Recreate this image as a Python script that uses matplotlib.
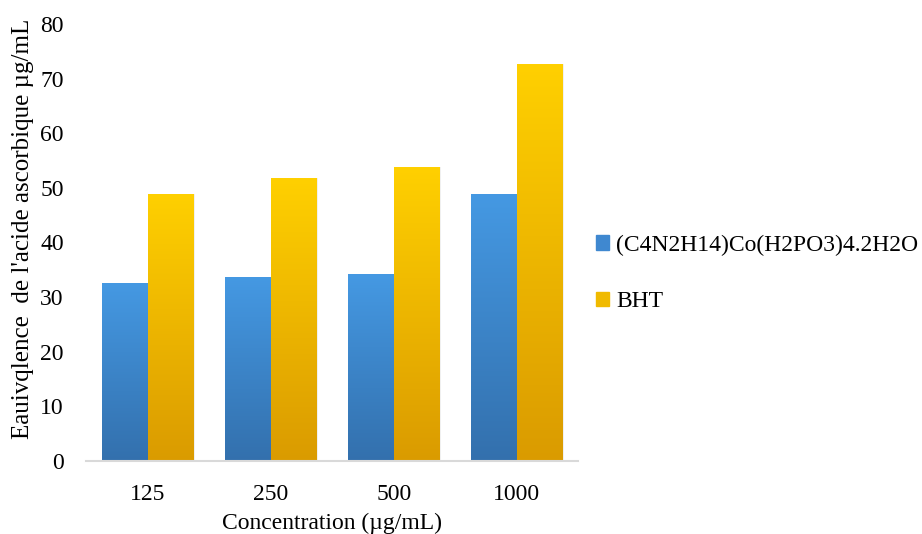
import matplotlib.pyplot as plt
import numpy as np
from matplotlib.colors import LinearSegmentedColormap

plt.rcParams['font.family'] = ['Liberation Serif', 'DejaVu Serif']

concentrations = ['125', '250', '500', '1000']
complex_values = [32.6, 33.7, 34.2, 48.9]
bht_values = [48.9, 51.8, 53.8, 72.7]
series_names = ['(C4N2H14)Co(H2PO3)4.2H2O', 'BHT']

# top / bottom colours of each bar gradient
blue_grad = ('#4599E3', '#3370AD')
gold_grad = ('#FFD000', '#DA9B00')


def gradient_bars(ax, bars, top_bottom):
    cmap = LinearSegmentedColormap.from_list('g', [top_bottom[1], top_bottom[0]])
    grad = np.linspace(0, 1, 256).reshape(-1, 1)
    for bar in bars:
        x, y = bar.get_xy()
        w, h = bar.get_width(), bar.get_height()
        bar.set_facecolor('none')
        # faint shadow on the right edge
        ax.add_patch(plt.Rectangle((x + w, y), w * 0.04, h, color='#000000',
                                   alpha=0.06, lw=0, zorder=1))
        im = ax.imshow(grad, cmap=cmap, aspect='auto', origin='lower',
                       extent=[x, x + w, y, y + h], zorder=2)
        im.set_clip_path(bar)


fig = plt.figure(figsize=(9.22, 5.34), dpi=100)
ax = fig.add_axes([0.0933, 0.137, 0.534, 0.818])

idx = np.arange(len(concentrations))
width = 0.37
b1 = ax.bar(idx - width / 2, complex_values, width, color=blue_grad[1], lw=0)
b2 = ax.bar(idx + width / 2, bht_values, width, color=gold_grad[1], lw=0)
gradient_bars(ax, b1, blue_grad)
gradient_bars(ax, b2, gold_grad)

ax.set_xlim(-0.5, 3.5)
ax.set_ylim(0, 80)
ax.set_yticks(range(0, 81, 10))
ax.set_xticks(idx)
ax.set_xticklabels(concentrations)
ax.tick_params(length=0, labelsize=17, colors='#000000')
ax.tick_params(axis='x', pad=17)
ax.tick_params(axis='y', pad=16)
for s in ['top', 'right', 'left']:
    ax.spines[s].set_visible(False)
ax.spines['bottom'].set_color('#D9D9D9')
ax.spines['bottom'].set_linewidth(1.5)

ax.set_xlabel('Concentration (µg/mL)', fontsize=17, labelpad=5)
ax.set_ylabel("Eauivqlence  de l'acide ascorbique µg/mL", fontsize=18,
              labelpad=6)
ax.yaxis.set_label_coords(-0.106, 0.53)

handles = [plt.Rectangle((0, 0), 1, 1, color='#3F88D0'),
           plt.Rectangle((0, 0), 1, 1, color='#F0BA00')]
fig.legend(handles, series_names, loc='center left',
           bbox_to_anchor=(0.636, 0.488), frameon=False, fontsize=17,
           handlelength=0.55, handleheight=0.55, handletextpad=0.3,
           labelspacing=1.5, borderaxespad=0)

fig.savefig('out.png', dpi=100)
